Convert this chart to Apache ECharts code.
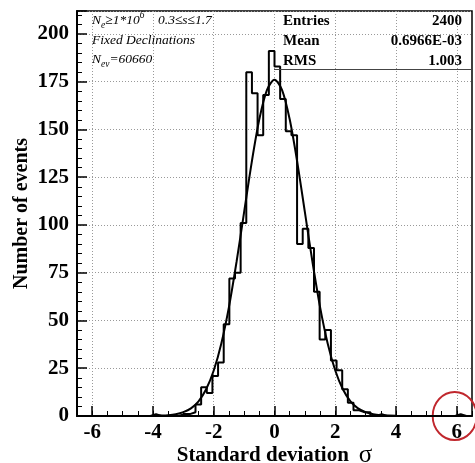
<!DOCTYPE html>
<html><head><meta charset="utf-8">
<script src="https://cdn.jsdelivr.net/npm/echarts@6/dist/echarts.min.js"></script>
<style>html,body{margin:0;padding:0;background:#fff}#c{width:475px;height:463px}</style>
</head><body><div id="c"></div>
<script>
// ---- data ----
const binLow = -6.5, binHigh = 6.5;
const counts = [
  0,0,0,0,0,0,0,0,0,0,0,0,0,
  1,
  0,0,0,0,
  1,1,2,6,15,12,21,28,48,72,75,101,180,169,147,168,191,
  183,166,149,147,90,98,88,65,40,45,29,24,14,7,3,2,2,0,1,
  0,0,0,0,0,0,0,0,0,0,0,0,0,
  1,
  0,0
];
const fitX = [-4,-3.75,-3.5,-3.25,-3,-2.75,-2.5,-2.25,-2,-1.75,-1.5,-1.25,-1,-0.75,-0.5,-0.25,0,
              0.25,0.5,0.75,1,1.25,1.5,1.75,2,2.25,2.5,2.75,3,3.25,3.5,3.75,4];
const fitY = [0.1,0.2,0.4,0.9,2,4,7.7,14,23.8,38,57,80.6,106.7,132.8,155.3,170.6,176,
              170.6,155.3,132.8,106.7,80.6,57,38,23.8,14,7.7,4,2,0.9,0.4,0.2,0.1];
const xTickValues = [-6,-4,-2,0,2,4,6];
const yMax = 212, yStep = 25;
const statsLabels = ['Entries','Mean','RMS'];
const statsValues = ['2400','0.6966E-03','1.003'];
const circledPoint = [5.93, 0];

// ---- build ----
const w = (binHigh - binLow) / counts.length;
const histData = counts.map((c, i) => [binLow + i * w, c]);
histData.push([binHigh, 0]);
const fitData = fitX.map((x, i) => [x, fitY[i]]);

const serif = 'Liberation Serif';
const chart = echarts.init(document.getElementById('c'), null, {renderer: 'canvas'});
const lab = {fontFamily: serif, fontWeight: 'bold', fontSize: 21, color: '#000'};

const italic = {fontFamily: serif, fontStyle: 'italic', fontSize: 13.5, color: '#000'};
const statRows = [21, 41, 61];
const graphics = [];
graphics.push({type: 'line', silent: true, z: 50,
  shape: {x1: 274, y1: 69.5, x2: 472, y2: 69.5}, style: {stroke: '#444', lineWidth: 1}});
statsLabels.forEach((t, i) => {
  graphics.push({type: 'text', z: 50, style: {text: t, x: 283, y: statRows[i], textVerticalAlign: 'middle',
    font: 'bold 15px "Liberation Serif"', fill: '#000'}});
  graphics.push({type: 'text', z: 50, style: {text: statsValues[i], x: 462, y: statRows[i], textAlign: 'right',
    textVerticalAlign: 'middle', font: 'bold 15px "Liberation Serif"', fill: '#000'}});
});
const richIt = {
  m: Object.assign({}, italic, {lineHeight: 20, verticalAlign: 'middle'}),
  s: Object.assign({}, italic, {fontSize: 9.5, lineHeight: 9, verticalAlign: 'bottom'}),
  p: Object.assign({}, italic, {fontSize: 9.5, lineHeight: 9, verticalAlign: 'top'})
};
graphics.push({type: 'text', z: 50, style: {text: '{m|N}{s|e}{m|≥1*10}{p|6}', x: 92, y: 20,
  textVerticalAlign: 'middle', rich: richIt}});
graphics.push({type: 'text', z: 50, style: {text: '{m|0.3≤s≤1.7}', x: 158, y: 20,
  textVerticalAlign: 'middle', rich: richIt}});
graphics.push({type: 'text', z: 50, style: {text: '{m|Fixed Declinations}', x: 92, y: 40,
  textVerticalAlign: 'middle', rich: richIt}});
graphics.push({type: 'text', z: 50, style: {text: '{m|N}{s|ev}{m|=60660}', x: 92, y: 59,
  textVerticalAlign: 'middle', rich: richIt}});

chart.setOption({
  animation: false,
  backgroundColor: '#fff',
  grid: {left: 77, right: 3, top: 11, bottom: 47, show: true, borderColor: '#000', borderWidth: 1.5,
    backgroundColor: 'transparent', outerBoundsMode: 'none', containLabel: false},
  xAxis: [{
    type: 'value', min: binLow, max: binHigh, position: 'bottom',
    axisLine: {show: true, onZero: false, lineStyle: {color: '#000', width: 2}},
    axisTick: {show: true, inside: true, length: 10, customValues: xTickValues, lineStyle: {color: '#000', width: 1.5}},
    axisLabel: Object.assign({customValues: xTickValues, margin: 6}, lab),
    splitLine: {show: true, lineStyle: {color: '#999', type: [1, 2], width: 1}},
    name: '{a|Standard deviation}   {s|σ}', nameLocation: 'middle', nameGap: 27, nameMoveOverlap: false,
    nameTextStyle: {rich: {
      a: {fontFamily: serif, fontWeight: 'bold', fontSize: 21, color: '#000'},
      s: {fontFamily: serif, fontSize: 25, color: '#000'}
    }}
  }, {
    type: 'value', min: binLow, max: binHigh, interval: 0.5, position: 'bottom',
    axisLine: {show: false, onZero: false}, axisLabel: {show: false}, splitLine: {show: false},
    axisTick: {show: true, inside: true, length: 5, lineStyle: {color: '#000', width: 1}}
  }],
  yAxis: {
    type: 'value', min: 0, max: yMax, interval: yStep, position: 'left',
    axisLine: {show: true, onZero: false, lineStyle: {color: '#000', width: 2}},
    axisTick: {show: true, inside: true, length: 10, lineStyle: {color: '#000', width: 1.5}},
    minorTick: {show: true, splitNumber: 5, length: 5, lineStyle: {color: '#000', width: 1}},
    axisLabel: Object.assign({margin: 8, showMaxLabel: false}, lab),
    splitLine: {show: true, lineStyle: {color: '#999', type: [1, 2], width: 1}},
    name: 'Number of events', nameLocation: 'middle', nameGap: 45, nameMoveOverlap: false,
    nameTextStyle: {fontFamily: serif, fontWeight: 'bold', fontSize: 20, color: '#000'}
  },
  graphic: graphics,
  series: [{
    type: 'line', xAxisIndex: 0, yAxisIndex: 0, data: histData, step: 'end', symbol: 'none',
    lineStyle: {color: '#000', width: 2}, clip: true, z: 5,
    markPoint: {silent: true, symbol: 'circle', symbolSize: [44, 48],
      itemStyle: {color: 'rgba(0,0,0,0)', borderColor: '#c0272d', borderWidth: 2},
      label: {show: false}, data: [{coord: circledPoint}]}
  }, {
    type: 'line', xAxisIndex: 0, yAxisIndex: 0, data: fitData, smooth: 0.3, symbol: 'none',
    lineStyle: {color: '#000', width: 2}, z: 6
  }]
});
</script></body></html>
